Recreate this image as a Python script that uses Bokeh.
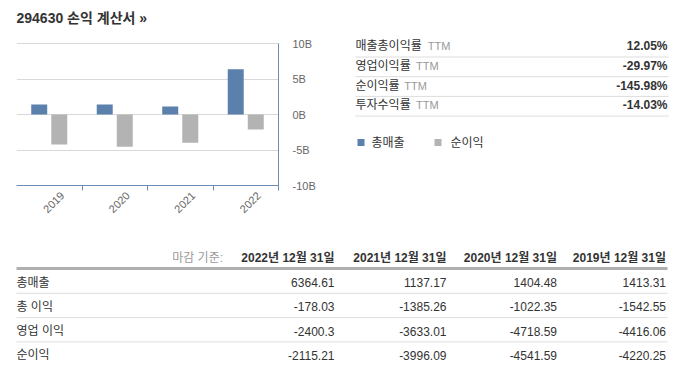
from bokeh.plotting import figure
from bokeh.models import Range1d, LinearAxis, FixedTicker, Grid, ColumnDataSource
from bokeh.layouts import column, row
from bokeh.core.properties import value
from bokeh.embed import file_html
from bokeh.resources import INLINE
from bokeh.transform import dodge
from math import pi

FONT_STR = "Liberation Sans, Noto Sans CJK KR"
FONT = value(FONT_STR)

# ---------------- data ----------------
title_text = "294630 손익 계산서 »"
years = ["2019", "2020", "2021", "2022"]
revenue = [1413.31, 1404.48, 1137.17, 6364.61]          # 총매출 (millions)
net_income = [-4220.25, -4541.59, -3996.09, -2115.21]   # 순이익 (millions)
y_ticks = [-10, -5, 0, 5, 10]
y_tick_labels = ["-10B", "-5B", "0B", "5B", "10B"]
legend_names = ["총매출", "순이익"]

ratio_names = ["매출총이익률", "영업이익률", "순이익률", "투자수익률"]
ratio_values = ["12.05%", "-29.97%", "-145.98%", "-14.03%"]

table_head_label = "마감 기준:"
table_dates = ["2022년 12월 31일", "2021년 12월 31일", "2020년 12월 31일", "2019년 12월 31일"]
table_rows = ["총매출", "총 이익", "영업 이익", "순이익"]
total_revenue = ["6364.61", "1137.17", "1404.48", "1413.31"]
gross_profit = ["-178.03", "-1385.26", "-1022.35", "-1542.55"]
operating_income = ["-2400.3", "-3633.01", "-4718.59", "-4416.06"]
net_income_tbl = ["-2115.21", "-3996.09", "-4541.59", "-4220.25"]

BLUE = "#5b80ab"
GRAY = "#b3b3b3"
AXIS = "#6b8bb5"
DARK = "#333333"
MID = "#666666"
LIGHT = "#999999"

ROW_TOP, ROW_H = 30, 196
BAR_BOTTOM_BORDER = 41
PX_PER_B = 7.1


def text_fig(w, h, x0, y0, bottom_border=0):
    p = figure(width=w, height=h, x_range=Range1d(x0, x0 + w),
               y_range=Range1d(y0 + h - bottom_border, y0),
               output_backend="svg", toolbar_location=None, x_axis_type=None, y_axis_type=None,
               min_border=0)
    p.min_border_bottom = bottom_border
    p.grid.visible = False
    p.outline_line_color = None
    return p


# ---------------- title ----------------
tf = text_fig(669, ROW_TOP, 0, 0)
tf.text(x=[16], y=[17], text=[title_text], text_font=FONT, text_font_size="14px",
        text_font_style="bold", text_color=DARK, text_align="left", text_baseline="middle")

# ---------------- bar chart ----------------
frame_h = ROW_H - BAR_BOTTOM_BORDER
y_top = -10 + frame_h / PX_PER_B
bp = figure(width=340, height=ROW_H, x_range=Range1d(0, len(years)), y_range=Range1d(-10, y_top),
            output_backend="svg", toolbar_location=None, x_axis_type=None, y_axis_type=None,
            min_border_left=16, min_border_right=62, min_border_top=0,
            min_border_bottom=BAR_BOTTOM_BORDER)
bp.outline_line_color = None

src = ColumnDataSource(dict(
    x=[i + 0.5 for i in range(len(years))],
    rev=[v / 1000 for v in revenue],
    net=[v / 1000 for v in net_income],
))
bp.vbar(x=dodge("x", -0.153), top="rev", bottom=0, width=0.244, source=src,
        fill_color=BLUE, line_color=None)
bp.vbar(x=dodge("x", 0.153), top="net", bottom=0, width=0.244, source=src,
        fill_color=GRAY, line_color=None)

yticker = FixedTicker(ticks=y_ticks)
bp.add_layout(Grid(dimension=1, ticker=yticker, grid_line_color="#d9d9d9"))

yax = LinearAxis(ticker=yticker, bounds=(-10, 10),
                 major_label_overrides={t: l for t, l in zip(y_ticks, y_tick_labels)},
                 axis_line_color=AXIS, major_tick_line_color=None, minor_tick_line_color=None,
                 major_tick_out=0, major_tick_in=0, major_label_standoff=14,
                 major_label_text_font=FONT_STR, major_label_text_font_size="11px",
                 major_label_text_color=MID)
bp.add_layout(yax, "right")

label_pos = [i + 0.5 + 0.2 for i in range(len(years))]
xticker = FixedTicker(ticks=label_pos, minor_ticks=[i + 1 for i in range(len(years))])
xax = LinearAxis(ticker=xticker,
                 major_label_overrides={p_: y for p_, y in zip(label_pos, years)},
                 axis_line_color=AXIS, major_tick_line_color=None,
                 minor_tick_line_color=AXIS, minor_tick_out=5, minor_tick_in=0,
                 major_tick_out=0, major_tick_in=0, major_label_standoff=3,
                 major_label_orientation=pi / 4,
                 major_label_text_font=FONT_STR, major_label_text_font_size="11px",
                 major_label_text_color=MID)
bp.add_layout(xax, "below")

# ---------------- ratio panel ----------------
rf = text_fig(329, ROW_H, 340, ROW_TOP, bottom_border=BAR_BOTTOM_BORDER)
row_y = [45.7 + 19.7 * i for i in range(len(ratio_names))]
rf.text(x=[355] * len(ratio_names), y=row_y, text=ratio_names, text_font=FONT,
        text_font_size="12px", text_color=DARK, text_align="left", text_baseline="middle")
rf.text(x=[355 + 11.7 * len(n) + 2 for n in ratio_names], y=row_y, text=["TTM"] * len(ratio_names),
        text_font=FONT, text_font_size="11px", text_color=LIGHT, text_align="left",
        text_baseline="middle")
rf.text(x=[667] * len(ratio_values), y=row_y, text=ratio_values, text_font=FONT,
        text_font_size="12px", text_font_style="bold", text_color=DARK, text_align="right",
        text_baseline="middle")
rf.segment(x0=[355] * 4, x1=[668] * 4, y0=[y + 10.8 for y in row_y], y1=[y + 10.8 for y in row_y],
           line_color="#dddddd", line_width=1)
# legend
rf.scatter(x=[360.5, 437.5], y=[142, 142], marker="square", size=7,
           fill_color=[BLUE, GRAY], line_color=None)
rf.text(x=[371, 450], y=[142, 142], text=legend_names, text_font=FONT, text_font_size="12px",
        text_color=DARK, text_align="left", text_baseline="middle")

# ---------------- data table ----------------
df = text_fig(669, 150, 0, ROW_TOP + ROW_H)
col_right = [334, 446, 556.5, 665.5]
df.text(x=[222.5], y=[257.5], text=[table_head_label], text_font=FONT, text_font_size="12px",
        text_color=LIGHT, text_align="right", text_baseline="middle")
df.text(x=col_right, y=[257.5] * 4, text=table_dates, text_font=FONT, text_font_size="12px",
        text_font_style="bold", text_color=DARK, text_align="right", text_baseline="middle")
df.segment(x0=[16], x1=[667], y0=[268], y1=[268], line_color="#b0b0b0", line_width=3)
trow_y = [282 + 24.3 * i for i in range(len(table_rows))]
df.text(x=[16] * 4, y=trow_y, text=table_rows, text_font=FONT, text_font_size="12px",
        text_color=DARK, text_align="left", text_baseline="middle")
for vals, yy in zip([total_revenue, gross_profit, operating_income, net_income_tbl], trow_y):
    df.text(x=col_right, y=[yy] * 4, text=vals, text_font=FONT, text_font_size="12px",
            text_color=DARK, text_align="right", text_baseline="middle")
df.segment(x0=[16] * 3, x1=[667] * 3, y0=[y + 10.8 for y in trow_y[:3]],
           y1=[y + 10.8 for y in trow_y[:3]], line_color="#dddddd", line_width=1)

layout = column(tf, row(bp, rf), df)
open("out.html", "w").write(file_html(layout, INLINE))
